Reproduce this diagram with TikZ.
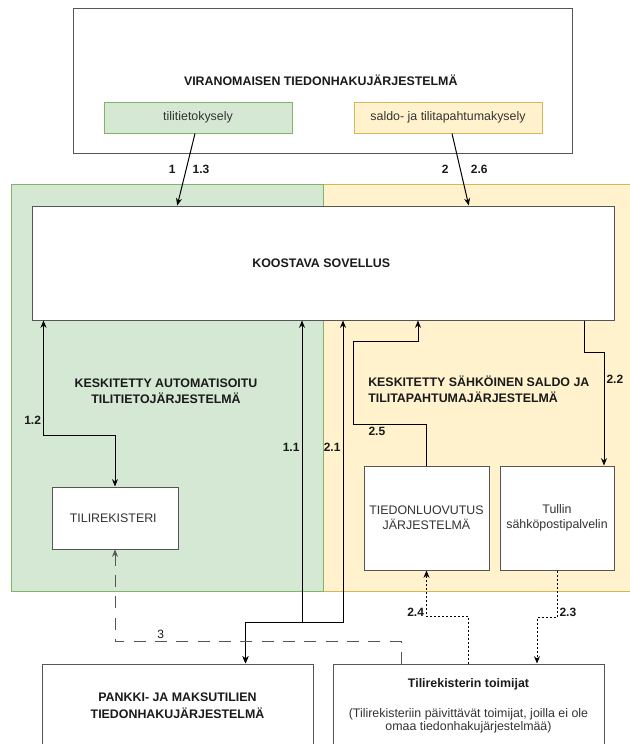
\documentclass[tikz,border=0pt]{standalone}
\usepackage{fontspec}
\setmainfont{Liberation Sans}
\usetikzlibrary{arrows.meta,calc}

\newcommand{\pxu}{0.75pt}
\definecolor{greenfill}{HTML}{D5E8D4}
\definecolor{greenline}{HTML}{82B366}
\definecolor{yellowfill}{HTML}{FFF2CC}
\definecolor{yellowline}{HTML}{D6B656}
\definecolor{boxline}{HTML}{555555}
\definecolor{boxtext}{HTML}{333333}
\definecolor{titletext}{HTML}{1A1A1A}

\begin{document}
\begin{tikzpicture}[x=\pxu, y=-\pxu,
      font=\fontsize{9.3}{11}\selectfont,
      >={Stealth[length=5.5pt,width=4.5pt]},
      area/.style={rectangle,
                   draw,
                   line width=\pxu,
                   inner sep=0pt},
      box/.style={rectangle,
                  draw=boxline,
                  line width=\pxu,
                  fill=white,
                  inner sep=0pt,
                  align=center,
                  text=boxtext},
      query/.style={rectangle,
                    draw,
                    line width=\pxu,
                    inner sep=0pt,
                    minimum width=188*\pxu,
                    minimum height=31*\pxu,
                    text=boxtext},
      heading/.style={font=\fontsize{9.3}{12}\selectfont\bfseries,
                      text=titletext,
                      align=center,
                      inner sep=0pt},
      lbl/.style={font=\fontsize{9}{10}\selectfont\bfseries,
                  text=titletext,
                  inner sep=1.5pt},
      flow/.style={draw=black,
                   line width=\pxu}
    ]

    \useasboundingbox (0,0) rectangle (630,744);
    \clip (0,0) rectangle (630,744);
    \fill[white] (0,0) rectangle (630,744);

    \draw (481.5,387.5)
          node[area, draw=yellowline, fill=yellowfill,
               minimum width=317*\pxu, minimum height=407*\pxu]
          (saldoarea) {};
    \draw (167,387.5)
          node[area, draw=greenline, fill=greenfill,
               minimum width=312*\pxu, minimum height=407*\pxu]
          (tiliarea) {};

    \draw (322.5,80.5)
          node[box, minimum width=499*\pxu, minimum height=145*\pxu]
          (viranomainen)
          { \textbf{\textcolor{titletext}{VIRANOMAISEN TIEDONHAKUJÄRJESTELMÄ}} };
    \draw (198,117.5)
          node[query, draw=greenline, fill=greenfill]
          (tilitieto)
          { tilitietokysely };
    \draw (448,117.5)
          node[query, draw=yellowline, fill=yellowfill]
          (saldo)
          { saldo- ja tilitapahtumakysely };

    \draw (323,263)
          node[box, minimum width=582*\pxu, minimum height=114*\pxu]
          (koostava)
          { \textbf{\textcolor{titletext}{KOOSTAVA SOVELLUS}} };

    \draw (166,391)
          node[heading]
          (tilititle)
          { KESKITETTY AUTOMATISOITU\\TILITIETOJÄRJESTELMÄ };
    \draw (368,389)
          node[heading, anchor=west, align=left]
          (saldotitle)
          { KESKITETTY SÄHKÖINEN SALDO JA\\TILITAPAHTUMAJÄRJESTELMÄ };

    \draw (115,518)
          node[box, minimum width=126*\pxu, minimum height=62*\pxu]
          (tilirek)
          { TILIREKISTERI };
    \draw (426.5,518)
          node[box, minimum width=125*\pxu, minimum height=104*\pxu]
          (tiedon)
          { TIEDONLUOVUTUS\\JÄRJESTELMÄ };
    \draw (557,518)
          node[box, minimum width=114*\pxu, minimum height=104*\pxu]
          (tullin)
          { Tullin\\sähköpostipalvelin };

    \draw (177.5,706)
          node[box, minimum width=271*\pxu, minimum height=84*\pxu,
               font=\fontsize{9.3}{12.5}\selectfont\bfseries, text=titletext]
          (pankki)
          { PANKKI- JA MAKSUTILIEN\\TIEDONHAKUJÄRJESTELMÄ };
    \draw (468.5,706)
          node[box, minimum width=271*\pxu, minimum height=84*\pxu,
               font=\fontsize{9.3}{9.5}\selectfont]
          (toimijat)
          { \textbf{\textcolor{titletext}{Tilirekisterin toimijat}}\\[13pt]
            (Tilirekisteriin päivittävät toimijat, joilla ei ole\\
            omaa tiedonhakujärjestelmää) };

    \coordinate (pankkiin) at ($(pankki.north west)!0.75!(pankki.north east)$);

    \draw [flow,->] ([xshift=-3*\pxu]tilitieto.south) to
                    node[lbl,left=6pt] {1}
                    node[lbl,right=3pt] {1.3}
                    ($(koostava.north west)!0.25!(koostava.north east)$);
    \draw [flow,->] ([xshift=4*\pxu]saldo.south) to
                    node[lbl,left=7pt] {2}
                    node[lbl,right=6pt] {2.6}
                    ($(koostava.north west)!0.75!(koostava.north east)$);

    \draw [flow,<->] ([xshift=12*\pxu]koostava.south west) --
                     node[lbl,left,pos=0.87] {1.2}
                     ++(0,115) -| (tilirek.north);
    \draw [flow,<->] ([xshift=-21*\pxu]koostava.south) --
                     node[lbl,left,pos=0.42] {1.1}
                     ++(0,302) -| (pankkiin);
    \draw [flow,<->] ([xshift=20*\pxu]koostava.south) --
                     node[lbl,left,pos=0.42] {2.1}
                     ++(0,302) -| (pankkiin);

    \draw [flow,->] (tiedon.north) -- ++(0,-41) --
                    node[lbl,below,pos=0.68] {2.5}
                    ++(-73,0) -- ++(0,-83) -| ([xshift=95*\pxu]koostava.south);
    \draw [flow,->] ([xshift=261*\pxu]koostava.south) -- ++(0,32) -|
                    node[lbl,right,pos=0.62] {2.2}
                    ([xshift=47*\pxu]tullin.north);

    \draw [flow,->,dash pattern=on 1.5pt off 1.5pt] (toimijat.north) --
                    ++(0,-47) -|
                    node[lbl,left,pos=0.55] {2.4}
                    (tiedon.south);
    \draw [flow,->,dash pattern=on 1.5pt off 1.5pt] (tullin.south) --
                    node[lbl,right,pos=0.9] {2.3}
                    ++(0,47) -| ([xshift=68.5*\pxu]toimijat.north);

    \draw [flow,->,draw=boxline,dash pattern=on 9pt off 7pt]
                    ([xshift=-67.5*\pxu]toimijat.north) -- ++(0,-22) -|
                    node[lbl,above,pos=0.42,font=\fontsize{9}{10}\selectfont] {3}
                    (tilirek.south);

\end{tikzpicture}
\end{document}
